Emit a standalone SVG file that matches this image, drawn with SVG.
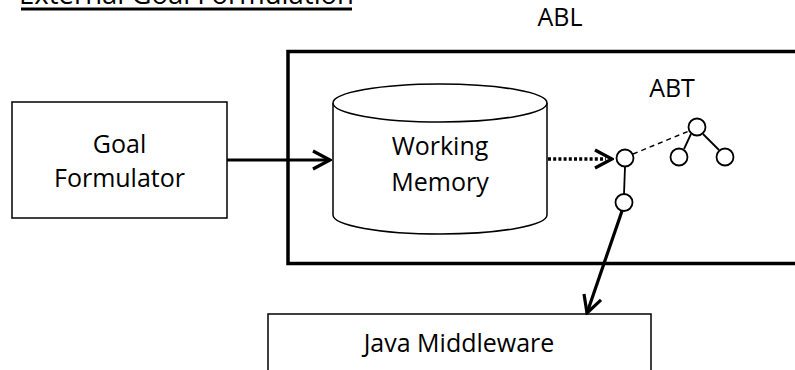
<svg xmlns="http://www.w3.org/2000/svg" width="795" height="370" viewBox="0 0 795 370">
  <style>
    .lbl { font-family: "Open Sans", "Noto Sans", "Liberation Sans", sans-serif; font-size: 25px; fill: #000; text-anchor: middle; }
    .box { fill: #fff; stroke: #000; stroke-width: 1.5; }
    .node { fill: #fff; stroke: #000; stroke-width: 1.8; }
    .edge { fill: none; stroke: #000; }
  </style>
  <defs>
    <marker id="chevron" viewBox="-20 -12 22 24" refX="0" refY="0" markerWidth="22" markerHeight="24" markerUnits="userSpaceOnUse" orient="auto">
      <path d="M -17 -9 L 0 0 L -17 9" fill="none" stroke="#000" stroke-width="3.2" stroke-linejoin="miter"/>
    </marker>
  </defs>

  <rect width="795" height="370" fill="#fff"/>

  <!-- title, partly above the top edge -->
  <g id="title">
    <text class="lbl" x="186.5" y="4" style="font-size:27.5px">External Goal Formulation</text>
    <line x1="21" y1="9" x2="352" y2="9" stroke="#000" stroke-width="3"/>
  </g>

  <!-- ABL container -->
  <g id="abl">
    <text class="lbl" x="560" y="26">ABL</text>
    <rect x="288" y="51.5" width="520" height="212" fill="none" stroke="#000" stroke-width="3.5"/>
  </g>

  <g id="goal-formulator">
    <rect class="box" x="12" y="102" width="215" height="116"/>
    <text class="lbl" x="119.5" y="153">Goal</text>
    <text class="lbl" x="119.5" y="187">Formulator</text>
  </g>

  <g id="working-memory">
    <path class="box" d="M 333 103 L 333 215 A 107 19 0 0 0 547 215 L 547 103"/>
    <ellipse class="box" cx="440" cy="103" rx="107" ry="19"/>
    <text class="lbl" x="440" y="155">Working</text>
    <text class="lbl" x="440" y="191">Memory</text>
  </g>

  <g id="abt">
    <text class="lbl" x="672" y="97">ABT</text>
  </g>

  <g id="java-middleware">
    <rect class="box" x="268" y="314" width="383" height="80"/>
    <text class="lbl" x="459" y="352">Java Middleware</text>
  </g>

  <!-- connectors -->
  <g id="connectors">
    <line class="edge" x1="227" y1="160" x2="330" y2="160" stroke-width="3.2" marker-end="url(#chevron)"/>
    <line class="edge" x1="548" y1="159" x2="606" y2="159" stroke-width="3.5" stroke-dasharray="3 2.2"/>
    <line class="edge" x1="600" y1="159" x2="612" y2="159" stroke-width="0.1" marker-end="url(#chevron)"/>
    <line class="edge" x1="633" y1="154" x2="689" y2="131" stroke-width="1.5" stroke-dasharray="5 4"/>
    <line class="edge" x1="691" y1="134" x2="684" y2="149" stroke-width="1.8"/>
    <line class="edge" x1="703" y1="134" x2="719" y2="150" stroke-width="1.8"/>
    <line class="edge" x1="625" y1="167" x2="624" y2="194" stroke-width="1.8"/>
    <line class="edge" x1="622" y1="211" x2="587" y2="313" stroke-width="3.2" marker-end="url(#chevron)"/>
  </g>

  <!-- behaviour tree nodes -->
  <g id="tree-root"><circle class="node" cx="625" cy="158" r="8.5"/></g>
  <g id="tree-step"><circle class="node" cx="624" cy="202.5" r="8.5"/></g>
  <g id="tree-top"><circle class="node" cx="697" cy="127" r="8.5"/></g>
  <g id="tree-left"><circle class="node" cx="679" cy="157" r="8.5"/></g>
  <g id="tree-right"><circle class="node" cx="725" cy="157" r="8.5"/></g>
</svg>
